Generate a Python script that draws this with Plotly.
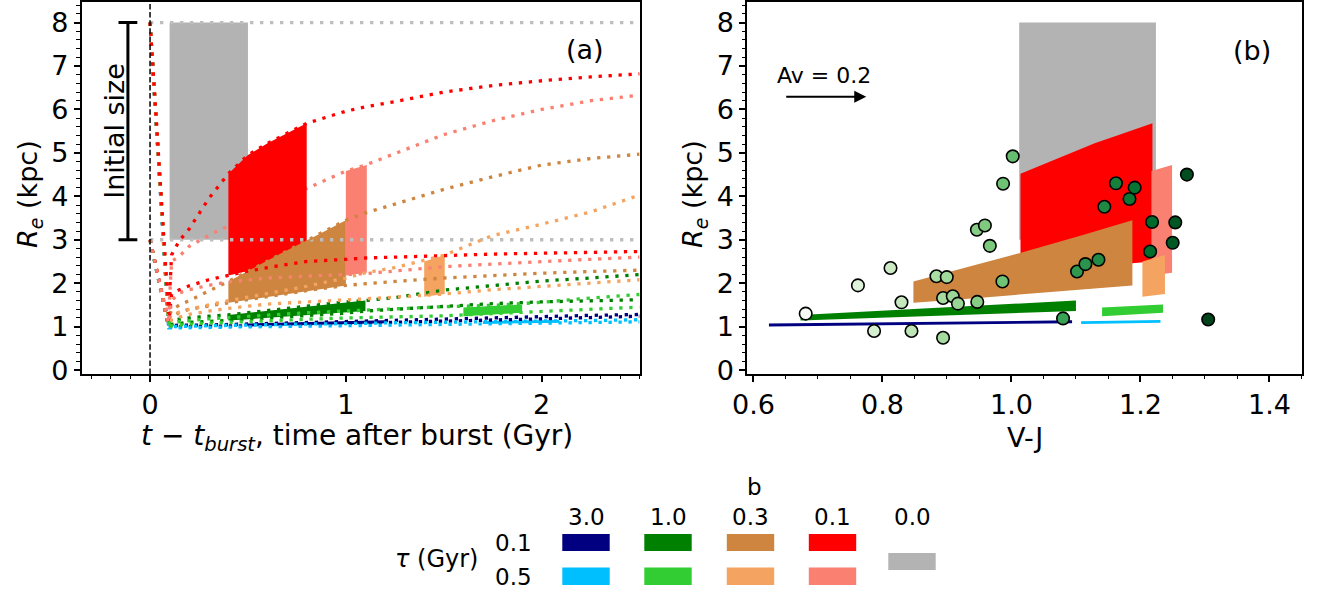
import plotly.graph_objects as go

FONT = "DejaVu Sans"
W, H = 1317, 592

# ---------------- data: panel (a) model tracks ----------------
t_grid = [0, 0.095, 0.11, 0.15, 0.2, 0.3, 0.4, 0.5, 0.6, 0.8, 1.0, 1.1, 1.25, 1.5, 1.75, 2.0, 2.25, 2.5]
init_sizes = [3, 8]

# initial size 8 kpc
re8_b3_t01 = [8, 1.02, 1.03, 1.03, 1.04, 1.04, 1.05, 1.06, 1.07, 1.09, 1.11, 1.12, 1.14, 1.17, 1.20, 1.23, 1.26, 1.28]
re8_b3_t05 = [8, 1.00, 1.00, 1.00, 1.01, 1.02, 1.03, 1.04, 1.05, 1.06, 1.07, 1.08, 1.09, 1.10, 1.12, 1.13, 1.14, 1.16]
re8_b1_t01 = [8, 1.10, 1.15, 1.18, 1.20, 1.24, 1.27, 1.32, 1.37, 1.48, 1.57, 1.60, 1.67, 1.84, 1.95, 2.05, 2.12, 2.20]
re8_b1_t05 = [8, 1.08, 1.10, 1.12, 1.14, 1.18, 1.21, 1.24, 1.27, 1.32, 1.36, 1.38, 1.41, 1.46, 1.49, 1.56, 1.66, 1.74]
re8_b03_t01 = [8, 1.20, 1.38, 1.50, 1.60, 1.81, 2.04, 2.27, 2.50, 2.98, 3.45, 3.62, 3.82, 4.16, 4.45, 4.72, 4.87, 4.97]
re8_b03_t05 = [8, 1.15, 1.28, 1.33, 1.40, 1.50, 1.60, 1.68, 1.76, 1.93, 2.12, 2.24, 2.36, 2.64, 3.10, 3.36, 3.64, 4.03]
re8_b01_t01 = [8, 1.30, 2.65, 2.98, 3.25, 3.95, 4.52, 4.95, 5.22, 5.68, 5.96, 6.06, 6.18, 6.40, 6.55, 6.66, 6.75, 6.82]
re8_b01_t05 = [8, 1.25, 2.50, 2.62, 2.85, 3.10, 3.32, 3.55, 3.76, 4.18, 4.58, 4.72, 4.98, 5.42, 5.74, 6.00, 6.20, 6.33]

# initial size 3 kpc
re3_b3_t01 = [3, 0.98, 0.99, 1.00, 1.00, 1.01, 1.01, 1.02, 1.03, 1.05, 1.07, 1.08, 1.09, 1.12, 1.15, 1.18, 1.21, 1.24]
re3_b3_t05 = [3, 0.97, 0.97, 0.97, 0.98, 0.98, 0.99, 0.99, 1.00, 1.01, 1.02, 1.03, 1.04, 1.05, 1.07, 1.08, 1.09, 1.11]
re3_b1_t01 = [3, 1.02, 1.05, 1.08, 1.10, 1.12, 1.14, 1.17, 1.20, 1.26, 1.31, 1.36, 1.40, 1.47, 1.53, 1.57, 1.60, 1.62]
re3_b1_t05 = [3, 1.00, 1.02, 1.04, 1.06, 1.08, 1.10, 1.12, 1.14, 1.17, 1.20, 1.21, 1.22, 1.25, 1.30, 1.35, 1.40, 1.45]
re3_b03_t01 = [3, 1.05, 1.20, 1.33, 1.40, 1.48, 1.55, 1.62, 1.69, 1.83, 1.95, 1.99, 2.04, 2.12, 2.18, 2.23, 2.27, 2.30]
re3_b03_t05 = [3, 1.05, 1.15, 1.22, 1.28, 1.36, 1.42, 1.47, 1.52, 1.57, 1.61, 1.64, 1.68, 1.75, 1.85, 1.93, 2.00, 2.08]
re3_b01_t01 = [3, 1.10, 1.75, 1.85, 1.94, 2.08, 2.18, 2.28, 2.36, 2.50, 2.55, 2.58, 2.60, 2.64, 2.67, 2.69, 2.71, 2.73]
re3_b01_t05 = [3, 1.08, 1.60, 1.78, 1.85, 1.95, 2.03, 2.08, 2.12, 2.16, 2.19, 2.22, 2.28, 2.38, 2.44, 2.50, 2.55, 2.60]

# windows matching the observed colours: time, V-J, upper (8 kpc) and lower (3 kpc) size
win_t_b0 = [0.1, 0.5];        win_vj_b0 = [1.012, 1.224];     win_hi_b0 = [8, 8];          win_lo_b0 = [3, 3]
win_t_b01_t01 = [0.4, 0.5, 0.6, 0.7, 0.8]
win_vj_b01_t01 = [1.014, 1.086, 1.129, 1.174, 1.2186]
win_hi_b01_t01 = [4.52, 4.95, 5.22, 5.45, 5.68]
win_lo_b01_t01 = [2.18, 2.28, 2.36, 2.44, 2.50]
win_t_b01_t05 = [1.0, 1.107];  win_vj_b01_t05 = [1.217, 1.249];  win_hi_b01_t05 = [4.58, 4.72]; win_lo_b01_t05 = [2.18, 2.24]
win_t_b03_t01 = [0.4, 0.55, 0.67, 0.85, 1.0]
win_vj_b03_t01 = [0.848, 0.939, 1.012, 1.108, 1.1875]
win_hi_b03_t01 = [2.04, 2.40, 2.69, 3.10, 3.45]
win_lo_b03_t01 = [1.55, 1.65, 1.73, 1.85, 1.95]
win_t_b03_t05 = [1.4, 1.505];  win_vj_b03_t05 = [1.203, 1.238];  win_hi_b03_t05 = [2.50, 2.65]; win_lo_b03_t05 = [1.69, 1.75]
win_t_b1_t01 = [0.4, 1.1];     win_vj_b1_t01 = [0.673, 1.100];   win_hi_b1_t01 = [1.27, 1.60];  win_lo_b1_t01 = [1.14, 1.36]
win_t_b1_t05 = [1.6, 1.9];     win_vj_b1_t05 = [1.1405, 1.235];  win_hi_b1_t05 = [1.44, 1.51];  win_lo_b1_t05 = [1.24, 1.32]
win_t_b3_t01 = [0.5, 1.2];     win_vj_b3_t01 = [0.624, 1.094];   win_hi_b3_t01 = [1.075, 1.145]; win_lo_b3_t01 = [1.005, 1.08]
win_t_b3_t05 = [1.7, 2.09];    win_vj_b3_t05 = [1.108, 1.231];   win_hi_b3_t05 = [1.125, 1.155]; win_lo_b3_t05 = [1.06, 1.09]

# ---------------- data: panel (b) observed galaxies ----------------
obs_vj = [0.681, 0.762, 0.8125, 0.8295, 0.787, 0.845, 0.894, 0.8837, 0.8997, 0.894, 0.909,
          0.917, 0.947, 0.9464, 0.9588, 0.9665, 0.986, 0.987, 1.002, 1.080, 1.1017, 1.1147,
          1.1349, 1.144, 1.162, 1.183, 1.191, 1.218, 1.215, 1.254, 1.250, 1.272, 1.305]
obs_re = [1.30, 1.95, 2.35, 1.56, 0.90, 0.90, 0.745, 2.16, 2.14, 1.66, 1.70,
          1.53, 1.57, 3.23, 3.33, 2.86, 2.04, 4.29, 4.92, 1.19, 2.27, 2.44,
          2.54, 3.76, 4.30, 3.94, 4.20, 3.41, 2.73, 3.40, 2.93, 4.50, 1.165]

# legend table labels
b_labels = ["3.0", "1.0", "0.3", "0.1", "0.0"]
tau_labels = ["0.1", "0.5"]
av_label = "Av = 0.2"
av_vector = [0.6485, 0.7749]   # V-J start / end of reddening vector
av_level = 6.29

# ---------------- styles ----------------
C_NAVY, C_DSB = "#000080", "#00BFFF"
C_GREEN, C_LIME = "#008000", "#32CD32"
C_PERU, C_SANDY = "#CD853F", "#F4A460"
C_RED, C_SALMON = "#FF0000", "#FA8072"
C_GRAY = "#B3B3B3"
GREENS = [[0.0, "rgb(247,252,245)"], [0.125, "rgb(229,245,224)"], [0.25, "rgb(199,233,192)"],
          [0.375, "rgb(161,217,155)"], [0.5, "rgb(116,196,118)"], [0.625, "rgb(65,171,93)"],
          [0.75, "rgb(35,139,69)"], [0.875, "rgb(0,109,44)"], [1.0, "rgb(0,68,27)"]]

tracks = [  # drawing order
    (re8_b3_t01, re3_b3_t01, C_NAVY),
    (re8_b3_t05, re3_b3_t05, C_DSB),
    (re8_b1_t01, re3_b1_t01, C_GREEN),
    (re8_b1_t05, re3_b1_t05, C_LIME),
    (re8_b03_t01, re3_b03_t01, C_PERU),
    (re8_b03_t05, re3_b03_t05, C_SANDY),
    (re8_b01_t01, re3_b01_t01, C_RED),
    (re8_b01_t05, re3_b01_t05, C_SALMON),
]
hidden_tracks = [(re8_b01_t05, C_SALMON)]   # track that lies beneath the shaded windows
windows = [
    (win_t_b01_t01, win_vj_b01_t01, win_hi_b01_t01, win_lo_b01_t01, C_RED),
    (win_t_b01_t05, win_vj_b01_t05, win_hi_b01_t05, win_lo_b01_t05, C_SALMON),
    (win_t_b03_t01, win_vj_b03_t01, win_hi_b03_t01, win_lo_b03_t01, C_PERU),
    (win_t_b03_t05, win_vj_b03_t05, win_hi_b03_t05, win_lo_b03_t05, C_SANDY),
    (win_t_b1_t01, win_vj_b1_t01, win_hi_b1_t01, win_lo_b1_t01, C_GREEN),
    (win_t_b1_t05, win_vj_b1_t05, win_hi_b1_t05, win_lo_b1_t05, C_LIME),
    (win_t_b3_t01, win_vj_b3_t01, win_hi_b3_t01, win_lo_b3_t01, C_NAVY),
    (win_t_b3_t05, win_vj_b3_t05, win_hi_b3_t05, win_lo_b3_t05, C_DSB),
]
DOT = "3.3px,6.7px"
Y_RANGE = [-0.09, 8.48]

fig = go.Figure()


def band(x, hi, lo, color, xa, ya):
    fig.add_trace(go.Scatter(x=list(x) + list(x)[::-1], y=list(hi) + list(lo)[::-1],
                             mode="lines", fill="toself", fillcolor=color,
                             line=dict(width=0, color=color), hoverinfo="skip",
                             xaxis=xa, yaxis=ya))


def track(r, col):
    fig.add_trace(go.Scatter(x=t_grid, y=r, mode="lines",
                             line=dict(color=col, width=3.3, dash=DOT),
                             hoverinfo="skip", xaxis="x", yaxis="y"))


# ---- panel (a) ----
band(win_t_b0, win_hi_b0, win_lo_b0, C_GRAY, "x", "y")
for r, col in hidden_tracks:
    track(r, col)
for wt, wv, whi, wlo, col in windows:
    band(wt, whi, wlo, col, "x", "y")
for r0 in init_sizes:
    fig.add_trace(go.Scatter(x=[0, t_grid[-1]], y=[r0, r0], mode="lines",
                             line=dict(color="#BDBDBD", width=3.3, dash=DOT),
                             hoverinfo="skip", xaxis="x", yaxis="y"))
hidden_ids = [id(r) for r, _ in hidden_tracks]
for hi, lo, col in tracks:
    for r in (lo, hi):
        if id(r) not in hidden_ids:
            track(r, col)
# burst time marker
fig.add_trace(go.Scatter(x=[0, 0], y=Y_RANGE, mode="lines",
                         line=dict(color="black", width=1.5, dash="5.5px,2.6px"),
                         hoverinfo="skip", xaxis="x", yaxis="y"))
# initial-size bar
bar_x = -0.113
cap = 0.048
fig.add_trace(go.Scatter(x=[bar_x, bar_x, None, bar_x - cap, bar_x + cap, None, bar_x - cap, bar_x + cap],
                         y=[init_sizes[0], init_sizes[1], None, init_sizes[0], init_sizes[0], None,
                            init_sizes[1], init_sizes[1]],
                         mode="lines", line=dict(color="black", width=3),
                         hoverinfo="skip", xaxis="x", yaxis="y"))

# ---- panel (b) ----
band(win_vj_b0, win_hi_b0, win_lo_b0, C_GRAY, "x2", "y2")
for wt, wv, whi, wlo, col in windows:
    band(wv, whi, wlo, col, "x2", "y2")
fig.add_trace(go.Scatter(x=obs_vj, y=obs_re, mode="markers",
                         marker=dict(size=12.5, color=obs_vj, colorscale=GREENS, cmin=0.67, cmax=1.29,
                                     line=dict(color="black", width=1.6)),
                         hoverinfo="skip", xaxis="x2", yaxis="y2"))


def px_x(p):
    return p / W


def px_y(p):
    return 1 - p / H


Y_DOM = [px_y(374), px_y(1.7)]
axis_common = dict(showline=True, linecolor="black", linewidth=1.5, mirror=True,
                   ticks="outside", ticklen=6, tickwidth=1.5, tickcolor="black",
                   showgrid=False, zeroline=False, automargin=False,
                   tickfont=dict(family=FONT, size=27, color="black"))
minor_common = dict(ticks="outside", ticklen=3.5, tickwidth=1.2, tickcolor="black", tick0=0)

fig.update_layout(
    width=W, height=H, margin=dict(l=0, r=0, t=0, b=0, pad=0),
    paper_bgcolor="white", plot_bgcolor="white", showlegend=False,
    font=dict(family=FONT, size=27, color="black"),
    xaxis=dict(domain=[px_x(81.5), px_x(639.6)], range=[-0.35, 2.5], anchor="y",
               tickvals=[0, 1, 2], minor=dict(dtick=0.1, **minor_common), **axis_common),
    yaxis=dict(domain=Y_DOM, range=Y_RANGE, anchor="x", tickvals=list(range(9)),
               minor=dict(dtick=0.2, **minor_common), **axis_common),
    xaxis2=dict(domain=[px_x(747), px_x(1301.7)], range=[0.59, 1.45], anchor="y2",
                tickvals=[0.6, 0.8, 1.0, 1.2, 1.4], tickformat=".1f",
                minor=dict(dtick=0.05, **minor_common), **axis_common),
    yaxis2=dict(domain=Y_DOM, range=Y_RANGE, anchor="x2", tickvals=list(range(9)),
                minor=dict(dtick=0.2, **minor_common), **axis_common),
)


def paper_text(x, y, text, size, angle=0):
    return dict(x=px_x(x), y=px_y(y), xref="paper", yref="paper", text=text, textangle=angle,
                showarrow=False, xanchor="center", yanchor="middle", font=dict(size=size))


ann = [
    # axis titles
    paper_text(357, 437, "<i>t</i> − <i>t</i><sub><i>burst</i></sub>, time after burst (Gyr)", 28),
    paper_text(1025, 437, "V-J", 27),
    paper_text(30, 194, "<i>R</i><sub><i>e</i></sub> (kpc)", 27, -90),
    paper_text(695, 194, "<i>R</i><sub><i>e</i></sub> (kpc)", 27, -90),
    # panel labels and notes
    dict(x=2.221, y=7.37, xref="x", yref="y", text="(a)", showarrow=False, font=dict(size=27)),
    dict(x=1.373, y=7.35, xref="x2", yref="y2", text="(b)", showarrow=False, font=dict(size=27)),
    dict(x=-0.181, y=5.5, xref="x", yref="y", text="Initial size", textangle=-90,
         showarrow=False, font=dict(size=27)),
    dict(x=0.7097, y=6.77, xref="x2", yref="y2", text=av_label, showarrow=False, font=dict(size=22)),
    dict(x=av_vector[1], y=av_level, ax=av_vector[0], ay=av_level, xref="x2", yref="y2",
         axref="x2", ayref="y2", text="", showarrow=True, arrowhead=2, arrowsize=1.2,
         arrowwidth=2, arrowcolor="black"),
]

# legend table (b columns, tau rows)
col_px = [586, 668, 750.5, 832.5, 912]
row_colors = [[C_NAVY, C_GREEN, C_PERU, C_RED], [C_DSB, C_LIME, C_SANDY, C_SALMON]]
row_px = [(534, 551), (567.5, 585)]
half_w = 23.7
ann.append(paper_text(755, 487, "b", 23))
for i, lab in enumerate(b_labels):
    ann.append(paper_text(col_px[i], 517, lab, 23))
for j, lab in enumerate(tau_labels):
    ann.append(paper_text(513, (row_px[j][0] + row_px[j][1]) / 2 + 0.5, lab, 23))
ann.append(paper_text(436, 559, "<i>τ</i> (Gyr)", 24))

shapes = []
for j in range(2):
    for i in range(4):
        shapes.append(dict(type="rect", xref="paper", yref="paper",
                           x0=px_x(col_px[i] - half_w), x1=px_x(col_px[i] + half_w),
                           y0=px_y(row_px[j][1]), y1=px_y(row_px[j][0]),
                           fillcolor=row_colors[j][i], line=dict(width=0)))
shapes.append(dict(type="rect", xref="paper", yref="paper",
                   x0=px_x(col_px[4] - half_w), x1=px_x(col_px[4] + half_w),
                   y0=px_y(570), y1=px_y(553), fillcolor=C_GRAY, line=dict(width=0)))

fig.update_layout(annotations=ann, shapes=shapes)
# remove the default 8px page margin so the figure fills the window exactly; hide the mode bar
fig.write_html("out.html", config={"displayModeBar": False},
               post_script="document.body.style.margin='0px';")
